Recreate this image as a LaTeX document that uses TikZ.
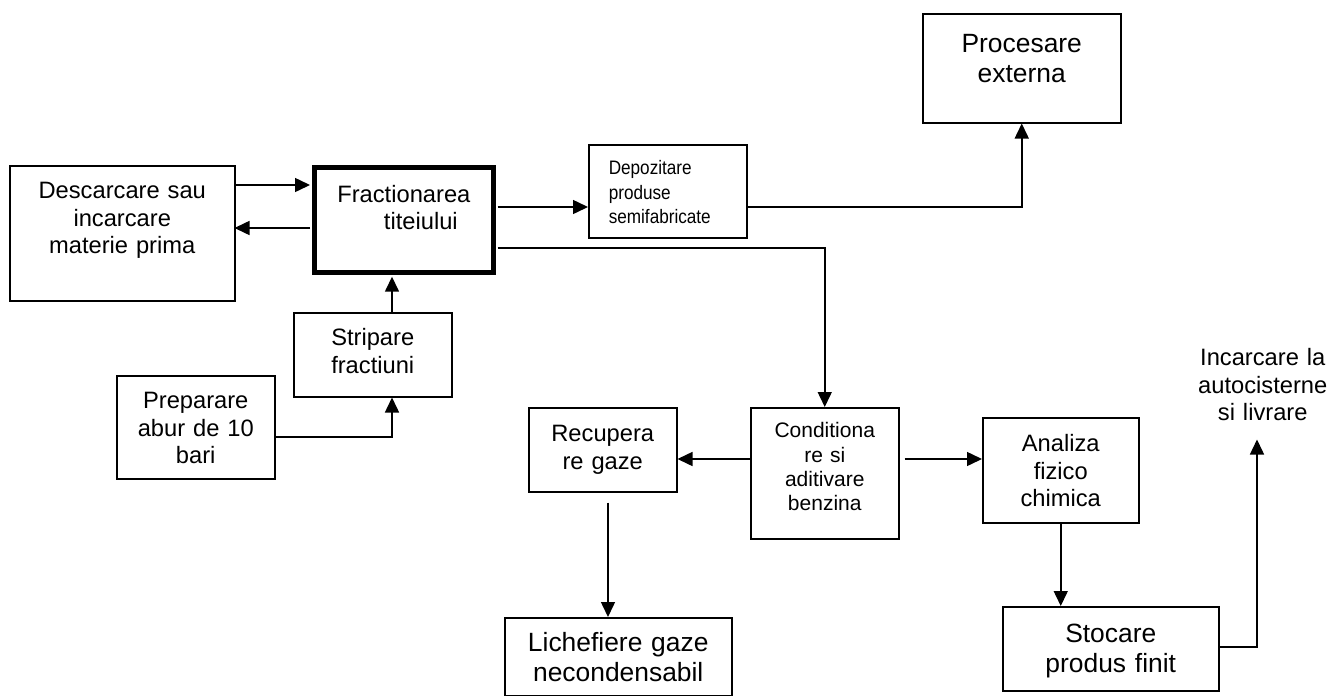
\documentclass[tikz,border=0pt]{standalone}
\usepackage{fontspec}
\setmainfont{Liberation Sans}
\newfontfamily\narrowsans[FakeStretch=0.88]{Liberation Sans}
\usetikzlibrary{arrows.meta}
\newcommand{\fsNorm}{\fontsize{23.7}{27.5}\selectfont}
\newcommand{\fsBig}{\fontsize{26.4}{29.5}\selectfont}
\newcommand{\fsMid}{\fontsize{21}{24.4}\selectfont}
\newcommand{\fsSmall}{\narrowsans\fontsize{19.5}{24.5}\selectfont}
\begin{document}
\begin{tikzpicture}[x=1pt,y=-1pt,
  blok/.style={draw, line width=1.5pt, inner sep=0pt, align=center, anchor=north west, font=\fsNorm},
  arr/.style={line width=1.5pt, -{Triangle[length=15pt,width=14pt]}}]
\useasboundingbox (0,0) rectangle (1331,696);

% boxes
\node[blok, text width=225pt, text height=33pt, text depth=102pt] (desc) at (9,165) {Descarcare sau\\incarcare\\materie prima};
\node[blok, line width=4.7pt, text width=179pt, text height=35pt, text depth=70pt] (frac) at (312,165) {Fractionarea\\\hspace*{34pt}titeiului};
\node[blok, font=\fsSmall, align=left, inner xsep=20pt, text width=118pt, text height=30pt, text depth=63pt] (depoz) at (588,144) {Depozitare\\produse\\semifabricate};
\node[blok, font=\fsBig, text width=198pt, text height=39pt, text depth=70pt] (proc) at (922,13) {Procesare\\externa};
\node[blok, text width=158pt, text height=33pt, text depth=51pt] (strip) at (293,312) {Stripare\\fractiuni};
\node[blok, text width=158pt, text height=33pt, text depth=70pt] (prep) at (116,375) {Preparare\\abur de 10\\bari};
\node[blok, text width=148pt, text height=34pt, text depth=50pt] (recup) at (528,407) {Recupera\\re gaze};
\node[blok, font=\fsMid, text width=148pt, text height=30pt, text depth=101pt] (cond) at (750,407) {Conditiona\\re si\\aditivare\\benzina};
\node[blok, text width=156pt, text height=34pt, text depth=71pt] (anal) at (982,417) {Analiza\\fizico\\chimica};
\node[blok, font=\fsBig, text width=227pt, text height=34pt, text depth=44pt] (lich) at (504,617) {Lichefiere gaze\\necondensabil};
\node[blok, font=\fsBig, text width=216pt, text height=36pt, text depth=48pt] (stoc) at (1002,606) {Stocare\\produs finit};
\node[blok, draw=none, text width=140pt, text height=35pt, text depth=73pt] (livr) at (1192,330) {Incarcare la\\autocisterne\\si livrare};

% flows
\draw[arr, shorten >=2pt] (desc.east |- 0,185) -- (frac.west |- 0,185);
\draw[arr, shorten <=2pt, shorten >=-1pt] (frac.west |- 0,228) -- (desc.east |- 0,228);
\draw[arr, shorten >=2pt] (strip.north -| 392,0) -- (frac.south -| 392,0);
\draw[arr] (prep.east |- 0,437) -| (strip.south -| 392,0);
\draw[arr, shorten <=2pt] (frac.east |- 0,207) -- (depoz.west |- 0,207);
\draw[arr] (depoz.east |- 0,207) -| (proc.south);
\draw[arr, shorten <=2pt] (frac.east |- 0,248) -| (cond.north);
\draw[arr] (cond.west |- 0,459) -- (recup.east |- 0,459);
\draw[arr] ([xshift=5pt]cond.east |- 0,459) -- (anal.west |- 0,459);
\draw[arr] ([yshift=-10pt]recup.south -| 608,0) -- (lich.north -| 608,0);
\draw[arr] (anal.south) -- (stoc.north -| anal.south);
\draw[arr] (stoc.east |- 0,647) -| (livr.south -| 1257,0);
\end{tikzpicture}
\end{document}
